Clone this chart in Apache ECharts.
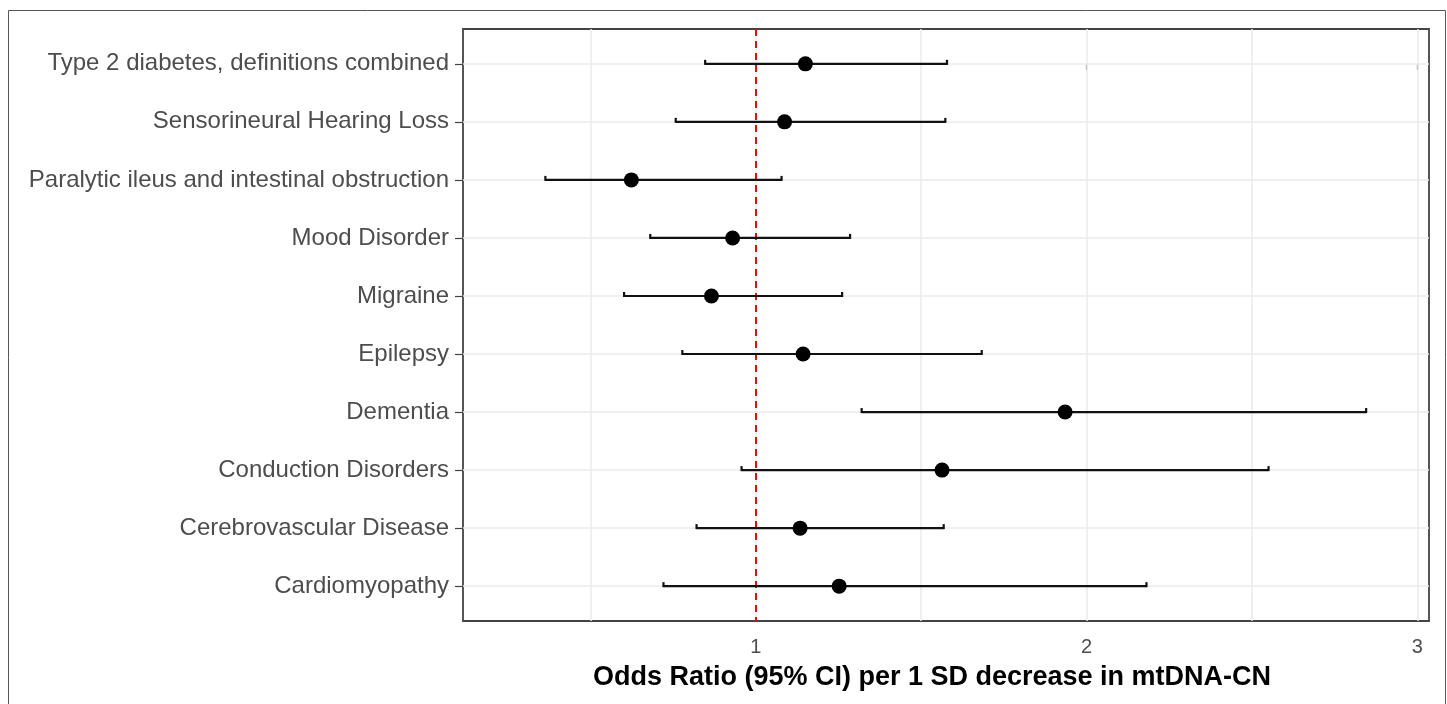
<!DOCTYPE html>
<html><head><meta charset="utf-8">
<script src="https://cdn.jsdelivr.net/npm/echarts@6/dist/echarts.min.js"></script>
<style>html,body{margin:0;padding:0;background:#fff}#c{width:1447px;height:704px}</style>
</head><body><div id="c"></div>
<script>
const categories = [
  'Type 2 diabetes, definitions combined',
  'Sensorineural Hearing Loss',
  'Paralytic ileus and intestinal obstruction',
  'Mood Disorder',
  'Migraine',
  'Epilepsy',
  'Dementia',
  'Conduction Disorders',
  'Cerebrovascular Disease',
  'Cardiomyopathy'
];
const orValues = [1.150, 1.087, 0.624, 0.930, 0.866, 1.143, 1.935, 1.563, 1.134, 1.252];
const ciLow    = [0.847, 0.758, 0.364, 0.681, 0.602, 0.778, 1.320, 0.957, 0.821, 0.721];
const ciHigh   = [1.578, 1.573, 1.078, 1.285, 1.261, 1.683, 2.845, 2.550, 1.568, 2.181];
const xTickValues = [1, 2, 3];
const xGridValues = [0.5, 1, 1.5, 2, 2.5, 3];
const refValue = 1;
const xTitle = 'Odds Ratio (95% CI) per 1 SD decrease in mtDNA-CN';

const rowIdx = categories.map((c, i) => i);
const chart = echarts.init(document.getElementById('c'));
chart.setOption({
  animation: false,
  backgroundColor: '#fff',
  textStyle: { fontFamily: 'Liberation Sans, Arial, sans-serif' },
  graphic: [{
    type: 'rect', z: 100, silent: true,
    shape: { x: 8.5, y: 10.5, width: 1437, height: 720 },
    style: { fill: 'none', stroke: '#555', lineWidth: 1 }
  }],
  grid: { left: 463, right: 18, top: 29, bottom: 83, show: true, borderColor: '#444', borderWidth: 1.8, backgroundColor: 'transparent' },
  xAxis: {
    type: 'value', min: 0.115, max: 3.035,
    axisLine: { show: false },
    axisTick: { show: true, customValues: xTickValues, length: 6, lineStyle: { color: '#444', width: 1.2 } },
    axisLabel: { customValues: xTickValues, fontSize: 20, color: '#4d4d4d', margin: 16 },
    splitLine: { show: false },
    name: xTitle, nameLocation: 'middle', nameGap: 43,
    nameTextStyle: { fontWeight: 'bold', fontSize: 27, color: '#000', padding: [0, 28, 0, 0] }
  },
  yAxis: {
    type: 'value', inverse: true, min: -0.6, max: 9.6,
    axisLine: { show: false },
    axisTick: { show: true, customValues: rowIdx, length: 8, lineStyle: { color: '#444', width: 1.2 } },
    axisLabel: { customValues: rowIdx, formatter: v => categories[Math.round(v)], fontSize: 24, color: '#4d4d4d', margin: 14 },
    splitLine: { show: false }
  },
  series: [
    {
      type: 'line', data: [], z: 1, silent: true,
      markLine: {
        z: 1, silent: true, symbol: 'none', label: { show: false },
        lineStyle: { color: '#ebebeb', width: 1.5, type: 'solid', opacity: 1 },
        data: xGridValues.map(v => ({ xAxis: v })).concat(rowIdx.map(i => ({ yAxis: i })))
      }
    },
    {
      type: 'line', data: [], z: 2, silent: true,
      markLine: {
        z: 2, silent: true, symbol: 'none', label: { show: false },
        lineStyle: { color: '#ff0000', width: 2, type: [7, 5], opacity: 1 },
        data: [{ xAxis: refValue }]
      }
    },
    {
      type: 'custom', z: 3, silent: true,
      data: rowIdx.map(i => [ciLow[i], ciHigh[i], i]),
      encode: { x: [0, 1], y: 2 },
      renderItem: function (params, api) {
        const y = api.value(2);
        const p1 = api.coord([api.value(0), y]);
        const p2 = api.coord([api.value(1), y]);
        const h = 4;
        const st = { stroke: '#111', lineWidth: 2.2, opacity: 1 };
        return {
          type: 'group', children: [
            { type: 'line', shape: { x1: p1[0], y1: p1[1], x2: p2[0], y2: p2[1] }, style: st },
            { type: 'line', shape: { x1: p1[0], y1: p1[1] - h, x2: p1[0], y2: p1[1] + 1 }, style: st },
            { type: 'line', shape: { x1: p2[0], y1: p2[1] - h, x2: p2[0], y2: p2[1] + 1 }, style: st }
          ]
        };
      }
    },
    {
      type: 'scatter', z: 4, silent: true,
      data: rowIdx.map(i => [orValues[i], i]),
      symbol: 'circle', symbolSize: 15,
      itemStyle: { color: '#000', opacity: 1 }
    }
  ]
});
</script></body></html>
